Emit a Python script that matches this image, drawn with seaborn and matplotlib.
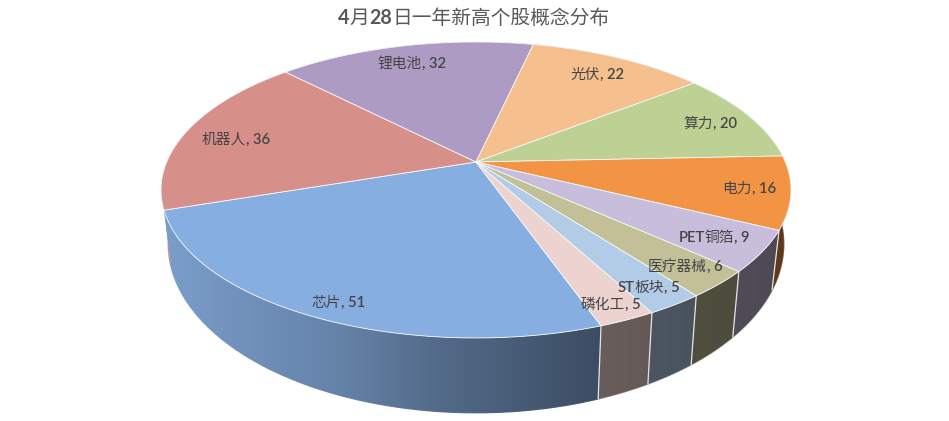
import numpy as np
import pandas as pd
import matplotlib
matplotlib.use("Agg")
import matplotlib.pyplot as plt
from matplotlib.collections import LineCollection
from matplotlib.patches import Polygon
import seaborn as sns

sns.set_theme(style="white")

concepts = ["芯片", "机器人", "锂电池", "光伏", "算力", "电力", "PET铜箔", "医疗器械", "ST板块", "磷化工"]
counts = [51, 36, 32, 22, 20, 16, 9, 6, 5, 5]
top_colors = ["#87AEE0", "#D78F8A", "#AE9BC3", "#F6BF8E", "#BDD195",
              "#F39444", "#C8BEDC", "#C3C098", "#B2CBE6", "#EDD3D0"]
label_x = [338, 236, 412, 597, 710, 749, 714, 685, 649, 611]
label_y = [301, 138, 62, 73, 122, 187, 236, 265, 286, 303]
title_runs = [("4", True), ("月", False), ("28", True), ("日一年新高个股概念分布", False)]

df = pd.DataFrame({"concept": concepts, "count": counts})
palette = sns.color_palette(top_colors)

CJK = "Noto Sans CJK SC"
LATIN = "Lato"
TEXT_DARK = "#454545"
TITLE_GREY = "#595959"

# Tilted disc: a unit circle seen through a perspective projection
CX, CY = 476.0, 162.0
A, B, K = 309.3, 142.7, 0.189
SQUEEZE, DROP, STRETCH = 0.977, 27.5, 1.14
START_DEG = -70.6


def project(theta):
    u, v = np.cos(theta), np.sin(theta)
    w = 1 + K * v
    return CX + A * u / w, CY - B * v / w


def lower_rim(x, y):
    return CX + SQUEEZE * (x - CX), DROP + STRETCH * y


def wall_shade(x):
    return np.interp(x, [168, 330, 450, 600, 790], [0.90, 0.76, 0.60, 0.44, 0.38])


def draw_runs(ax, fig, runs, xc, yc, size, color):
    """Centre a line of mixed Latin and CJK runs on (xc, yc) in data coordinates."""
    renderer = fig.canvas.get_renderer()
    items = []
    for chunk, weight, family in runs:
        t = ax.text(0, yc, chunk, fontsize=size, color=color, family=family,
                    fontweight=weight, va="center_baseline", ha="left", zorder=10)
        items.append((t, t.get_window_extent(renderer).width))
    x = xc - sum(w for _, w in items) / 2
    for t, w in items:
        t.set_x(x)
        x += w


def split_runs(label):
    runs, cur, cur_cjk = [], "", None
    for ch in label:
        is_cjk = ord(ch) > 0x2E80
        if cur and is_cjk != cur_cjk:
            runs.append((cur, "normal" if cur_cjk else 600, CJK if cur_cjk else LATIN))
            cur = ""
        cur += ch
        cur_cjk = is_cjk
    runs.append((cur, "normal" if cur_cjk else 600, CJK if cur_cjk else LATIN))
    return runs


fig = plt.figure(figsize=(9.49, 4.21), dpi=100, facecolor="white")
ax = fig.add_axes([0, 0, 1, 1])

# Slice boundaries run clockwise from the start angle
sweep = np.deg2rad(df["count"].to_numpy() / df["count"].sum() * 360)
edges = np.deg2rad(START_DEG) - np.concatenate([[0], np.cumsum(sweep)])

# Outer wall: each slice is one horizontal gradient clipped to its outline,
# painted back to front, with a thin shaded stroke along the lower rim
walls = []
for i, color in enumerate(palette):
    th = np.linspace(edges[i], edges[i + 1], 200)
    xt, yt = project(th)
    xb, yb = lower_rim(xt, yt)
    outline = np.column_stack([np.r_[xt, xb[::-1]], np.r_[yt, yb[::-1]]])
    rim = np.column_stack([xb, yb])
    walls.append((outline[:, 1].mean(), i, outline, rim))

for rank, (_, i, outline, rim) in enumerate(sorted(walls, key=lambda w: w[0])):
    base = np.array(palette[i])
    x0, x1 = outline[:, 0].min(), outline[:, 0].max()
    y0, y1 = outline[:, 1].min(), outline[:, 1].max()
    columns = np.linspace(x0, x1, 512)
    ramp = wall_shade(columns)[None, :, None] * base[None, None, :]
    image = ax.imshow(ramp, extent=(x0, x1, y1, y0), aspect="auto",
                      interpolation="bilinear", zorder=1 + rank * 0.01)
    image.set_clip_path(Polygon(outline, closed=True, transform=ax.transData))
    segments = np.stack([rim[:-1], rim[1:]], axis=1)
    stroke = wall_shade(segments[:, :, 0].mean(axis=1))[:, None] * base[None, :]
    ax.add_collection(LineCollection(segments, colors=stroke, linewidths=0.9,
                                     zorder=1 + rank * 0.01))

ax.set_xlim(0, 949)
ax.set_ylim(421, 0)
ax.axis("off")

# Pale separators where slices meet on the visible front of the wall
for a in edges[:-1]:
    if np.cos(a) > 0 and np.sin(a) < 0:
        xt, yt = project(a)
        xb, yb = lower_rim(xt, yt)
        ax.plot([xt, xb], [yt, yb], color="#E4E4E4", lw=0.9, zorder=2)

# Top face
for i, color in enumerate(palette):
    th = np.linspace(edges[i], edges[i + 1], 160)
    x, y = project(th)
    ax.fill(np.r_[CX, x], np.r_[CY, y], facecolor=color, edgecolor="#F6F8FB",
            linewidth=0.6, joinstyle="round", zorder=3)

fig.canvas.draw()
for name, value, lx, ly in zip(df["concept"], df["count"], label_x, label_y):
    draw_runs(ax, fig, split_runs(f"{name}, {value}"), lx, ly, 10.6, TEXT_DARK)

draw_runs(ax, fig,
          [(s, "bold" if b else "normal", LATIN if b else CJK) for s, b in title_runs],
          474, 16, 14.2, TITLE_GREY)

fig.savefig("out.png", dpi=100, facecolor="white")
